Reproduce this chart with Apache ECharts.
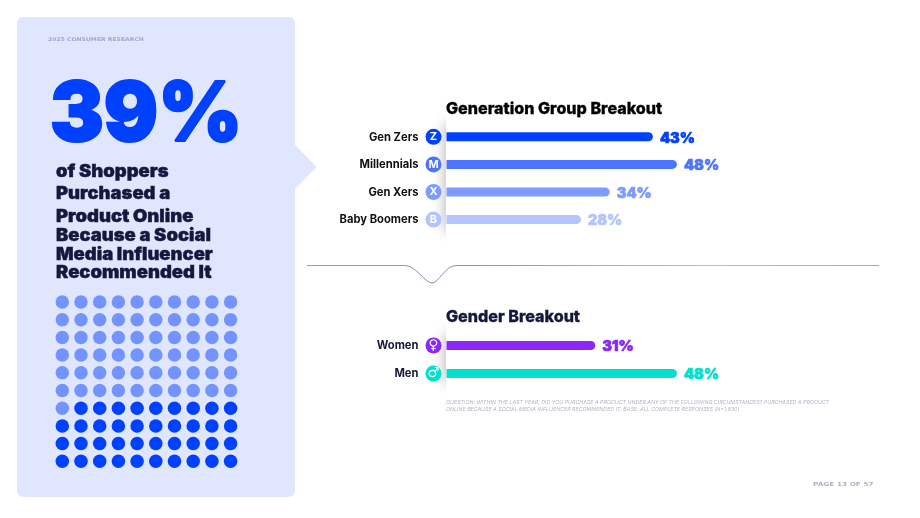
<!DOCTYPE html>
<html>
<head>
<meta charset="utf-8">
<script src="https://cdn.jsdelivr.net/npm/echarts@6/dist/echarts.min.js"></script>
<style>
  html, body { margin: 0; padding: 0; background: #fff; }
  #chart { width: 920px; height: 518px; }
</style>
</head>
<body>
<div id="chart"></div>
<script>
// Generation breakout
const generationNames = ['Gen Zers', 'Millennials', 'Gen Xers', 'Baby Boomers'];
const generationValues = [43, 48, 34, 28];
const generationBadges = ['Z', 'M', 'X', 'B'];
const generationColors = ['#0040ff', '#4d74ff', '#7f9bff', '#b3c4ff'];

// Gender breakout
const genderNames = ['Women', 'Men'];
const genderValues = [31, 48];
const genderBadges = ['\u2640', '\u2642'];
const genderColors = ['#8a28fa', '#00e0d0'];

// Unit grid of 100 shoppers: 1 = purchased because of an influencer
const dotRows = [
  '0000000000',
  '0000000000',
  '0000000000',
  '0000000000',
  '0000000000',
  '0000000000',
  '0111111111',
  '1111111111',
  '1111111111',
  '1111111111'
];

const headlineLines = [
  'of Shoppers', 'Purchased a', 'Product Online',
  'Because a Social', 'Media Influencer', 'Recommended It'
];
const headlineY = [172, 194, 217, 236, 254.5, 273];
const footnoteLines = [
  'QUESTION: WITHIN THE LAST YEAR, DID YOU PURCHASE A PRODUCT UNDER ANY OF THE FOLLOWING CIRCUMSTANCES? PURCHASED A PRODUCT',
  'ONLINE BECAUSE A SOCIAL MEDIA INFLUENCER RECOMMENDED IT. BASE: ALL COMPLETE RESPONSES (N=1,930)'
];

const FONT = 'Inter';
const NAVY = '#13183c';
const PANEL = '#e0e6fd';

function badgeRich(colors, nameColor, badgeFont, badgeSize) {
  const rich = {
    name: { fontFamily: FONT, fontWeight: 700, fontSize: 11.2, color: nameColor, padding: [1, 0, 0, 0] },
    gap: { width: 7 }
  };
  colors.forEach((c, i) => {
    rich['b' + i] = {
      width: 16, height: 16, lineHeight: 16, borderRadius: 8, align: 'center',
      backgroundColor: c, color: '#fff',
      fontFamily: badgeFont, fontWeight: 700, fontSize: badgeSize
    };
  });
  return rich;
}

function barAxis(idx, names, badges, colors, nameColor, badgeFont, badgeSize) {
  return {
    type: 'category', gridIndex: idx, data: names, inverse: true, z: 5,
    axisLine: { show: false }, axisTick: { show: false },
    axisLabel: {
      margin: 5,
      formatter: (v, i) => `{name|${v}}{gap| }{b${i}|${badges[i]}}`,
      rich: badgeRich(colors, nameColor, badgeFont, badgeSize)
    }
  };
}

function barSeries(idx, values, colors) {
  return {
    type: 'bar', xAxisIndex: idx, yAxisIndex: idx, z: 6, barWidth: 9,
    data: values.map((v, i) => ({
      value: v,
      itemStyle: { color: colors[i], borderRadius: [0, 4.5, 4.5, 0] },
      label: { color: colors[i], textBorderColor: colors[i] }
    })),
    label: {
      show: true, position: 'right', distance: 7, offset: [0, 1.5], formatter: '{c}%',
      fontFamily: FONT, fontWeight: 900, fontSize: 14.5, textBorderWidth: 0.6
    }
  };
}

function hiddenValueAxis(idx) {
  return { type: 'value', gridIndex: idx, min: 0, max: 60, show: false };
}

// Split the unit grid into the two colour groups
const dotsOn = [], dotsOff = [];
dotRows.forEach((row, r) => row.split('').forEach((cell, c) => {
  (cell === '1' ? dotsOn : dotsOff).push([c, r]);
}));

function text(x, y, str, style, extra) {
  return Object.assign({
    type: 'text', x, y, z: 3,
    style: Object.assign({ text: str, verticalAlign: 'middle' }, style)
  }, extra || {});
}

function axisShadow(y, h) {
  return [
    { type: 'rect', z: 1, shape: { x: 446, y, width: 8, height: h },
      style: { fill: '#fff', shadowBlur: 13, shadowColor: 'rgba(20,20,40,0.42)' } },
    { type: 'rect', z: 1, shape: { x: 446.5, y: y - 20, width: 30, height: h + 40 },
      style: { fill: '#fff' } }
  ];
}

const dividerStroke = { fill: 'none', lineWidth: 1, stroke: '#8f8fa8' };

const graphics = [
  // Panel with its pointer
  { type: 'rect', z: 0, shape: { x: 17, y: 17, width: 278, height: 480, r: 6 },
    style: { fill: PANEL } },
  { type: 'polygon', z: 0, shape: { points: [[293, 145], [314.5, 167], [293, 189]] },
    style: { fill: PANEL, stroke: PANEL, lineWidth: 3, lineJoin: 'round' } },
  text(48, 39.5, '2025 CONSUMER RESEARCH',
    { fontFamily: 'DejaVu Sans', fontWeight: 700, fontSize: 5, fill: '#a3a8c2' }, { scaleX: 1.21 }),
  text(50, 116, '39%',
    { fontFamily: FONT, fontWeight: 900, fontSize: 83, fill: '#0040ff', stroke: '#0040ff', lineWidth: 2.2 },
    { scaleX: 0.97 }),
  ...headlineLines.map((t, i) => text(56, headlineY[i], t,
    { fontFamily: FONT, fontWeight: 900, fontSize: 17.4, fill: NAVY, stroke: NAVY, lineWidth: 0.4 },
    { scaleX: 1.06 })),
  text(446, 109, 'Generation Group Breakout',
    { fontFamily: FONT, fontWeight: 800, fontSize: 16.1, fill: '#000', stroke: '#000', lineWidth: 0.3 }),
  text(446, 317.5, 'Gender Breakout',
    { fontFamily: FONT, fontWeight: 800, fontSize: 16.1, fill: NAVY, stroke: NAVY, lineWidth: 0.3 }),
  ...axisShadow(124, 107),
  ...axisShadow(334, 48),
  // Divider with a notch under the generation panel
  { type: 'line', z: 2, shape: { x1: 307, y1: 265.5, x2: 405, y2: 265.5 },
    style: { lineWidth: 1, stroke: '#9c9ca8' } },
  { type: 'bezierCurve', z: 2, shape: { x1: 405, y1: 265.5, cpx1: 416, cpy1: 265.5, cpx2: 425, cpy2: 283, x2: 432, y2: 283 },
    style: dividerStroke },
  { type: 'bezierCurve', z: 2, shape: { x1: 432, y1: 283, cpx1: 439, cpy1: 283, cpx2: 445, cpy2: 265.5, x2: 456, y2: 265.5 },
    style: dividerStroke },
  { type: 'line', z: 2, shape: { x1: 456, y1: 265.5, x2: 879, y2: 265.5 },
    style: { lineWidth: 1, stroke: {
      type: 'linear', x: 0, y: 0, x2: 1, y2: 0, global: false,
      colorStops: [{ offset: 0, color: '#8f8fa8' }, { offset: 0.6, color: '#bcbccc' }, { offset: 1, color: '#a8a8b4' }]
    } } },
  ...footnoteLines.map((t, i) => text(446, 402 + i * 7.6, t,
    { fontFamily: FONT, fontStyle: 'italic', fontSize: 5.3, fill: '#b3b5c6' })),
  text(813, 485, 'PAGE 13 OF 57',
    { fontFamily: 'DejaVu Sans', fontSize: 5.5, fontWeight: 700, fill: '#b0b2c4' }, { scaleX: 1.33 })
];

const chart = echarts.init(document.getElementById('chart'), null, { renderer: 'canvas' });
chart.setOption({
  animation: false,
  backgroundColor: '#fff',
  graphic: { elements: graphics },
  grid: [
    { left: 446.5, top: 123, width: 288, height: 110.4 },
    { left: 446.5, top: 331.5, width: 288, height: 56 },
    { left: 52.95, top: 293.15, width: 187, height: 177 }
  ],
  xAxis: [
    hiddenValueAxis(0),
    hiddenValueAxis(1),
    { type: 'value', gridIndex: 2, min: -0.5, max: 9.5, show: false }
  ],
  yAxis: [
    barAxis(0, generationNames, generationBadges, generationColors, '#111', FONT, 11),
    barAxis(1, genderNames, genderBadges, genderColors, NAVY, 'DejaVu Sans', 13.5),
    { type: 'value', gridIndex: 2, min: -0.5, max: 9.5, inverse: true, show: false }
  ],
  series: [
    barSeries(0, generationValues, generationColors),
    barSeries(1, genderValues, genderColors),
    { type: 'scatter', xAxisIndex: 2, yAxisIndex: 2, z: 6, symbolSize: 13.5,
      itemStyle: { color: '#7394ff', opacity: 1 }, data: dotsOff },
    { type: 'scatter', xAxisIndex: 2, yAxisIndex: 2, z: 6, symbolSize: 13.5,
      itemStyle: { color: '#0040ff', opacity: 1 }, data: dotsOn }
  ]
});
</script>
</body>
</html>
